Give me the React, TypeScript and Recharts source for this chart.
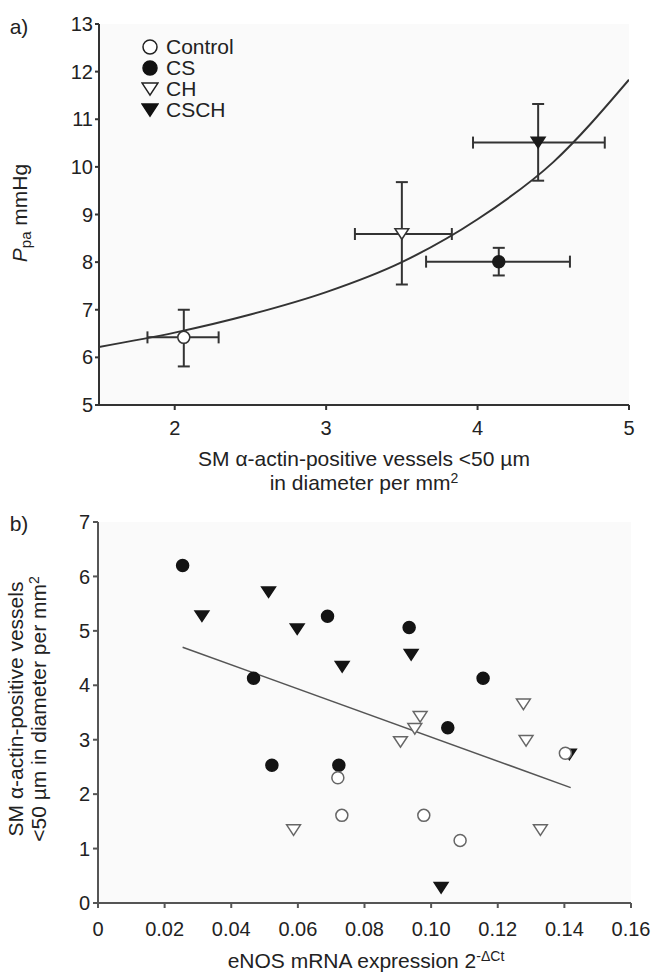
import React from "react";
import {
  ComposedChart,
  Scatter,
  Line,
  XAxis,
  YAxis,
  ErrorBar,
  CartesianGrid,
} from "recharts";

// panel a: group means (x = vessel count, y = Ppa) with error limits
const groupsA = ["Control", "CS", "CH", "CSCH"];
const vesselsA = [2.06, 4.14, 3.5, 4.4];
const vesselsLoA = [1.82, 3.66, 3.19, 3.97];
const vesselsHiA = [2.29, 4.61, 3.83, 4.84];
const ppaA = [6.42, 8.01, 8.59, 10.51];
const ppaLoA = [5.81, 7.72, 7.53, 9.71];
const ppaHiA = [7.0, 8.3, 9.68, 11.32];

// fitted curve
const fitX = [1.5, 2, 2.5, 3, 3.5, 4, 4.5, 5];
const fitY = [6.22, 6.52, 6.9, 7.37, 8.0, 8.9, 10.1, 11.83];

const ticksXA = [2, 3, 4, 5];
const ticksYA = [5, 6, 7, 8, 9, 10, 11, 12, 13];

// panel b: individual animals
const ctrlX = [0.072, 0.1403, 0.0732, 0.0978, 0.1087];
const ctrlY = [2.3, 2.75, 1.61, 1.61, 1.15];
const csX = [0.0254, 0.0689, 0.0934, 0.0467, 0.1156, 0.105, 0.0522, 0.0723];
const csY = [6.2, 5.27, 5.06, 4.13, 4.13, 3.22, 2.53, 2.53];
const chX = [0.1277, 0.0967, 0.0951, 0.0908, 0.1285, 0.0587, 0.1328];
const chY = [3.65, 3.42, 3.2, 2.96, 2.98, 1.34, 1.34];
const cschX = [0.0312, 0.0512, 0.0598, 0.094, 0.0733, 0.1415, 0.103];
const cschY = [5.27, 5.71, 5.03, 4.56, 4.34, 2.73, 0.28];

const regX = [0.0254, 0.1419];
const regY = [4.7, 2.12];

const ticksXB = [0, 0.02, 0.04, 0.06, 0.08, 0.1, 0.12, 0.14, 0.16];
const ticksYB = [0, 1, 2, 3, 4, 5, 6, 7];

const kindsA = ["oc", "fc", "ot", "ft"];

const pairs = (xs: number[], ys: number[]) => xs.map((x, i) => ({ x, y: ys[i] }));

const FONT = "'Liberation Sans', Arial, sans-serif";
const INK = "#222";

function makeShape(kind: string, r: number, openStroke: string, dark: string) {
  return (p: any) => {
    const { cx, cy } = p;
    if (cx == null || cy == null) return <g />;
    const open = kind[0] === "o";
    const fill = open ? "#fff" : dark;
    const stroke = open ? openStroke : dark;
    if (kind[1] === "c") {
      return <circle cx={cx} cy={cy} r={r} fill={fill} stroke={stroke} strokeWidth={1.5} />;
    }
    const w = r * 1.15;
    const h = r * 1.75;
    const pts = `${cx - w},${cy - h / 2} ${cx + w},${cy - h / 2} ${cx},${cy + h / 2}`;
    return <polygon points={pts} fill={fill} stroke={stroke} strokeWidth={1.5} strokeLinejoin="miter" />;
  };
}

const LegendMark = ({ kind }: { kind: string }) => {
  const Shape = makeShape(kind, 7, "#222", "#111");
  return (
    <svg width={18} height={18} style={{ display: "block" }}>
      <Shape cx={9} cy={9} />
    </svg>
  );
};

const Txt = ({ x, y, rotate, size = 21, lh = 23, children }: any) => (
  <div
    style={{
      position: "absolute",
      left: x,
      top: y,
      transform: `translate(-50%, -50%)${rotate ? " rotate(-90deg)" : ""}`,
      whiteSpace: "nowrap",
      fontSize: size,
      color: INK,
      lineHeight: `${lh}px`,
      textAlign: "center",
    }}
  >
    {children}
  </div>
);

export default function App() {
  const axisA = { stroke: "#333", strokeWidth: 2 };
  const axisB = { stroke: "#555", strokeWidth: 2 };
  const tickStyle = { fill: INK, fontSize: 20 };

  return (
    <div
      style={{
        position: "fixed",
        left: 0,
        top: 0,
        width: 651,
        height: 977,
        background: "#fff",
        fontFamily: FONT,
        overflow: "hidden",
      }}
    >
      {/* panel a */}
      <div style={{ position: "absolute", left: 0, top: 0 }}>
        <ComposedChart width={651} height={500} margin={{ top: 24, right: 22, bottom: 65, left: 59 }}>
          <CartesianGrid fill="#fafafa" stroke="none" horizontal={false} vertical={false} />
          <XAxis
            type="number"
            dataKey="x"
            domain={[1.5, 5]}
            ticks={ticksXA}
            interval={0}
            height={30}
            axisLine={axisA}
            tickLine={axisA}
            tickSize={5}
            tickMargin={11}
            tick={tickStyle}
            allowDataOverflow
          />
          <YAxis
            type="number"
            dataKey="y"
            domain={[5, 13]}
            ticks={ticksYA}
            interval={0}
            width={40}
            axisLine={axisA}
            tickLine={axisA}
            tickSize={4}
            tickMargin={2}
            tick={tickStyle}
            allowDataOverflow
          />
          <Line
            data={pairs(fitX, fitY)}
            dataKey="y"
            type="monotone"
            stroke="#333"
            strokeWidth={2}
            dot={false}
            isAnimationActive={false}
          />
          {groupsA.map((g, i) => (
            <Scatter
              key={g}
              name={g}
              data={[
                {
                  x: vesselsA[i],
                  y: ppaA[i],
                  ex: [vesselsA[i] - vesselsLoA[i], vesselsHiA[i] - vesselsA[i]],
                  ey: [ppaA[i] - ppaLoA[i], ppaHiA[i] - ppaA[i]],
                },
              ]}
              shape={makeShape(kindsA[i], 6, "#333", "#1a1a1a")}
              isAnimationActive={false}
            >
              <ErrorBar dataKey="ex" direction="x" width={6} stroke="#333" strokeWidth={2} />
              <ErrorBar dataKey="ey" direction="y" width={6} stroke="#333" strokeWidth={2} />
            </Scatter>
          ))}
        </ComposedChart>
      </div>

      <Txt x={19} y={26}>a)</Txt>
      <Txt x={20} y={213} rotate>
        <span style={{ fontStyle: "italic" }}>P</span>
        <span style={{ fontSize: 15, position: "relative", top: 4 }}>pa</span> mmHg
      </Txt>
      <Txt x={364} y={458}>SM α-actin-positive vessels &lt;50 µm</Txt>
      <Txt x={364} y={484}>
        in diameter per mm<span style={{ fontSize: 14, position: "relative", top: -7 }}>2</span>
      </Txt>

      {/* legend */}
      {groupsA.map((g, i) => (
        <div
          key={g}
          style={{
            position: "absolute",
            left: 141,
            top: 47 + i * 21 - 11,
            height: 22,
            display: "flex",
            alignItems: "center",
            fontSize: 21,
            color: INK,
          }}
        >
          <LegendMark kind={kindsA[i]} />
          <span style={{ marginLeft: 7 }}>{g}</span>
        </div>
      ))}

      {/* panel b */}
      <div style={{ position: "absolute", left: 0, top: 500 }}>
        <ComposedChart width={651} height={477} margin={{ top: 22, right: 20, bottom: 44, left: 58 }}>
          <CartesianGrid fill="#fafafa" stroke="none" horizontal={false} vertical={false} />
          <XAxis
            type="number"
            dataKey="x"
            domain={[0, 0.16]}
            ticks={ticksXB}
            interval={0}
            height={30}
            axisLine={axisB}
            tickLine={axisB}
            tickSize={5}
            tickMargin={14}
            tick={tickStyle}
            tickFormatter={(v: number) => (v === 0 ? "0" : v.toFixed(2))}
            allowDataOverflow
          />
          <YAxis
            type="number"
            dataKey="y"
            domain={[0, 7]}
            ticks={ticksYB}
            interval={0}
            width={40}
            axisLine={axisB}
            tickLine={axisB}
            tickSize={5}
            tickMargin={3}
            tick={tickStyle}
            allowDataOverflow
          />
          <Line
            data={pairs(regX, regY)}
            dataKey="y"
            type="linear"
            stroke="#555"
            strokeWidth={1.5}
            dot={false}
            isAnimationActive={false}
          />
          <Scatter data={pairs(csX, csY)} shape={makeShape("fc", 6, "#666", "#141414")} isAnimationActive={false} />
          <Scatter data={pairs(cschX, cschY)} shape={makeShape("ft", 6, "#666", "#141414")} isAnimationActive={false} />
          <Scatter data={pairs(chX, chY)} shape={makeShape("ot", 6, "#666", "#141414")} isAnimationActive={false} />
          <Scatter data={pairs(ctrlX, ctrlY)} shape={makeShape("oc", 6, "#666", "#141414")} isAnimationActive={false} />
        </ComposedChart>
      </div>

      <Txt x={19} y={523}>b)</Txt>
      <Txt x={28} y={709} rotate>
        SM α-actin-positive vessels
        <br />
        &lt;50 µm in diameter per mm<span style={{ fontSize: 14, position: "relative", top: -7 }}>2</span>
      </Txt>
      <Txt x={366} y={962}>
        eNOS mRNA expression 2<span style={{ fontSize: 14, position: "relative", top: -7 }}>-ΔCt</span>
      </Txt>
    </div>
  );
}
